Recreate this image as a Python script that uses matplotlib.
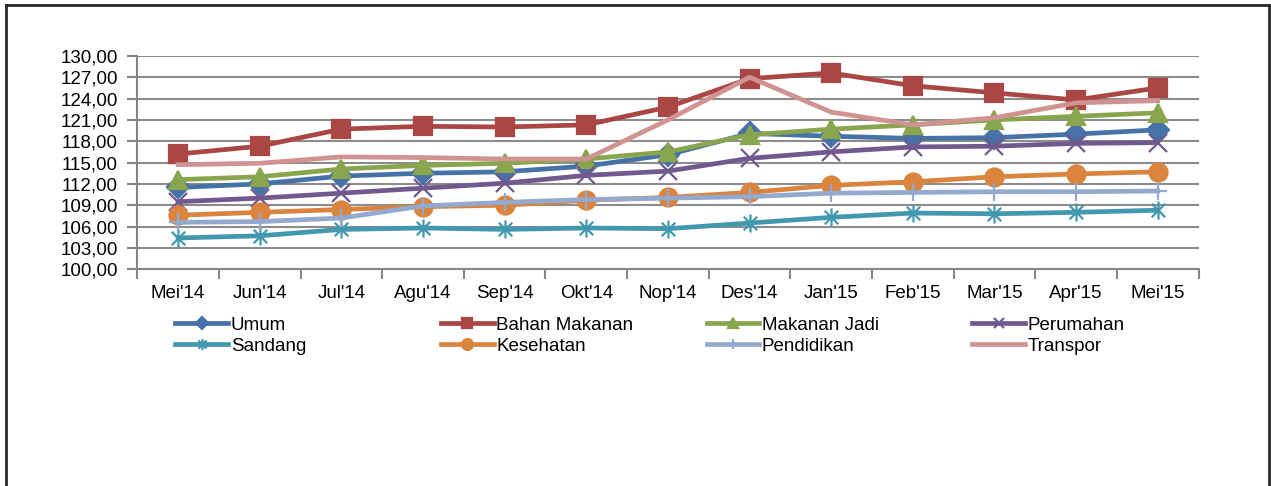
import matplotlib
matplotlib.use('Agg')
import matplotlib.pyplot as plt
import numpy as np
from matplotlib.path import Path
from matplotlib.lines import Line2D
from matplotlib.ticker import FuncFormatter

plt.rcParams['font.family'] = ['Liberation Sans', 'DejaVu Sans']

bulan = ["Mei'14", "Jun'14", "Jul'14", "Agu'14", "Sep'14", "Okt'14", "Nop'14",
         "Des'14", "Jan'15", "Feb'15", "Mar'15", "Apr'15", "Mei'15"]

umum = [111.5, 112.0, 113.1, 113.5, 113.7, 114.5, 116.1, 119.1, 118.7, 118.4, 118.5, 119.0, 119.6]
bahan_makanan = [116.2, 117.3, 119.7, 120.1, 120.0, 120.3, 122.8, 126.8, 127.6, 125.8, 124.8, 123.8, 125.5]
makanan_jadi = [112.6, 113.0, 114.1, 114.6, 114.9, 115.5, 116.5, 118.9, 119.7, 120.3, 121.0, 121.5, 122.0]
perumahan = [109.5, 110.0, 110.7, 111.4, 112.1, 113.2, 113.8, 115.6, 116.5, 117.2, 117.3, 117.7, 117.8]
sandang = [104.4, 104.7, 105.6, 105.8, 105.6, 105.8, 105.7, 106.5, 107.3, 107.9, 107.8, 108.0, 108.3]
kesehatan = [107.6, 108.0, 108.4, 108.8, 109.0, 109.7, 110.1, 110.8, 111.8, 112.3, 113.0, 113.4, 113.7]
pendidikan = [106.6, 106.7, 107.2, 108.9, 109.4, 109.8, 110.0, 110.2, 110.7, 110.8, 110.9, 110.9, 111.0]
transpor = [114.7, 114.9, 115.8, 115.7, 115.5, 115.5, 121.0, 127.0, 122.1, 120.3, 121.3, 123.4, 123.7]

y_ticks = [100, 103, 106, 109, 112, 115, 118, 121, 124, 127, 130]

# asterisk marker like Excel's star
star = Path([(0, -1), (0, 1), (-0.75, -0.75), (0.75, 0.75), (-0.75, 0.75), (0.75, -0.75)],
            [Path.MOVETO, Path.LINETO] * 3)

series = [
    ("Umum", umum, '#4572A7', 'D', 11),
    ("Bahan Makanan", bahan_makanan, '#AA4643', 's', 13),
    ("Makanan Jadi", makanan_jadi, '#89A54E', '^', 13),
    ("Perumahan", perumahan, '#71588F', 'x', 13),
    ("Sandang", sandang, '#4198AF', star, 13),
    ("Kesehatan", kesehatan, '#DB843D', 'o', 13),
    ("Pendidikan", pendidikan, '#93A9CF', '+', 13),
    ("Transpor", transpor, '#D19392', None, 0),
]

fs = 13.5
fig = plt.figure(figsize=(12.71, 4.86), dpi=100)
ax = fig.add_axes([0.108, 0.446, 0.835, 0.439])

x = np.arange(len(bulan))
handles = []
for name, vals, col, mk, ms in series:
    h, = ax.plot(x, vals, color=col, lw=3.4, marker=mk, markersize=ms,
                 markeredgewidth=1.6, markerfacecolor=col, markeredgecolor=col,
                 label=name, solid_joinstyle='round')
    handles.append(h)

ax.set_xlim(-0.5, len(bulan) - 0.5)
ax.set_ylim(100, 130)
ax.set_yticks(y_ticks)
ax.yaxis.set_major_formatter(FuncFormatter(lambda v, p: ('%.2f' % v).replace('.', ',')))
ax.set_xticks(x)
ax.set_xticklabels(bulan)
ax.set_xticks(np.arange(-0.5, len(bulan), 1), minor=True)
ax.tick_params(axis='x', which='major', length=0, pad=11, labelsize=fs)
ax.tick_params(axis='x', which='minor', length=7, width=1.5, color='#868686', direction='out')
ax.tick_params(axis='y', length=7, width=1.5, color='#868686', pad=7, labelsize=fs)
ax.grid(axis='y', color='#8c8c8c', lw=1.5)
ax.set_axisbelow(True)
for s in ['top', 'right']:
    ax.spines[s].set_visible(False)
for s in ['left', 'bottom']:
    ax.spines[s].set_color('#868686')
    ax.spines[s].set_linewidth(1.5)

# legend: 4 columns of 2 entries, placed like Excel
col_x = [0.138, 0.347, 0.556, 0.765]
for i, cx in enumerate(col_x):
    hs = [handles[i], handles[i + 4]]
    leg = fig.legend(hs, [h.get_label() for h in hs], loc='upper left',
                     bbox_to_anchor=(cx, 0.348), frameon=False, fontsize=fs,
                     handlelength=2.8, handletextpad=0.15, labelspacing=0.2,
                     borderpad=0, borderaxespad=0, markerscale=0.6)

# outer frame (left, top, right)
fr = dict(color='#2a2a2a', lw=2.0, transform=fig.transFigure)
fig.add_artist(Line2D([6 / 1271, 6 / 1271], [0, 1 - 5 / 486], **fr))
fig.add_artist(Line2D([6 / 1271, 1269 / 1271], [1 - 5 / 486, 1 - 5 / 486], **fr))
fig.add_artist(Line2D([1269 / 1271, 1269 / 1271], [0, 1 - 5 / 486], **fr))

fig.savefig('out.png', dpi=100)
